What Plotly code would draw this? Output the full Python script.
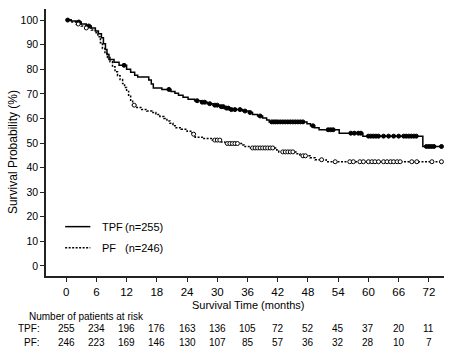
import plotly.graph_objects as go

# ---------------- data ----------------
tpf_times = [0, 1.0, 2.0, 3.0, 4.0, 5.0, 5.8, 6.4, 7.0, 7.4, 7.8, 8.1, 8.5, 9.5, 10.5, 12.0,
             12.8, 13.6, 14.2, 16.4, 16.9, 17.3, 19.0, 20.8, 21.6, 22.3, 23.2, 24.2, 25.5,
             26.8, 28.0, 29.2, 30.5, 31.5, 32.5, 35.0, 36.2, 37.0, 38.0, 39.0, 39.8, 40.3,
             47.8, 48.5, 49.3, 50.2, 54.2, 58.9, 70.8]
tpf_surv = [100, 99.6, 99.2, 98.4, 97.6, 96.8, 95.6, 94.4, 92.8, 90.4, 88.0, 86.0, 84.0, 82.8,
            81.6, 80.0, 78.8, 77.6, 76.8, 75.6, 74.0, 72.4, 71.8, 71.0, 70.2, 69.4, 68.6, 67.8,
            67.2, 66.6, 66.0, 65.4, 64.8, 64.2, 63.6, 63.0, 62.4, 61.6, 61.0, 60.2, 59.4, 58.6,
            57.8, 57.0, 56.2, 55.4, 54.0, 52.8, 48.6]
tpf_censor = [0.3, 2.5, 4.5, 11.5, 20.4, 26.0, 27.0, 27.5, 28.5, 29.5, 30.0, 30.8, 31.2, 31.8,
              32.2, 32.8, 33.5, 34.5, 35.5, 36.5, 38.5, 40.8, 41.2, 41.6, 42.0, 42.5, 43.0,
              43.5, 44.0, 44.5, 45.0, 45.5, 46.0, 46.5, 47.0, 49.0, 52.0, 52.5, 53.0, 56.5,
              57.2, 58.0, 58.5, 60.0, 60.5, 61.0, 61.5, 62.0, 63.0, 64.0, 65.0, 66.0, 67.0,
              67.5, 68.0, 68.5, 69.0, 69.5, 71.5, 72.0, 72.5, 73.0, 74.5]

pf_times = [0, 1.0, 2.0, 3.0, 4.0, 5.0, 5.8, 6.3, 6.8, 7.2, 7.7, 8.2, 8.7, 9.2, 9.7, 10.2,
            10.7, 11.2, 11.6, 12.0, 12.4, 12.8, 13.2, 13.8, 15.0, 16.0, 17.0, 17.8, 18.6,
            19.4, 20.0, 20.6, 21.2, 21.8, 22.8, 24.0, 25.0, 25.6, 27.0, 29.0, 30.8, 31.5,
            34.8, 35.3, 36.6, 41.8, 42.2, 45.6, 46.4, 48.4, 49.4, 51.6]
pf_surv = [100, 99.2, 98.4, 97.6, 96.8, 96.0, 94.8, 93.2, 90.8, 88.4, 86.4, 84.8, 83.0, 81.0,
           79.0, 77.4, 75.8, 74.2, 72.6, 71.0, 69.0, 67.0, 65.4, 64.4, 63.6, 63.0, 62.4, 61.6,
           60.8, 60.0, 59.0, 58.0, 57.0, 56.2, 55.6, 54.8, 53.6, 52.4, 51.8, 51.2, 50.4, 49.8,
           49.2, 48.6, 48.0, 47.2, 46.4, 45.6, 44.8, 44.0, 43.2, 42.4]
pf_censor = [2.4, 4.0, 13.5, 25.3, 29.5, 30.0, 30.5, 32.0, 32.5, 33.0, 33.5, 34.0, 37.0, 37.5,
             38.0, 38.5, 39.0, 39.5, 40.0, 40.5, 41.0, 43.0, 43.5, 44.0, 44.5, 45.0, 47.0,
             47.5, 50.7, 53.4, 56.3, 57.0, 58.3, 59.0, 60.0, 60.7, 61.3, 62.0, 63.0, 63.7,
             64.4, 65.0, 65.7, 66.3, 68.6, 69.6, 72.6, 74.5]

risk_months = [0, 6, 12, 18, 24, 30, 36, 42, 48, 54, 60, 66, 72]
tpf_risk = [255, 234, 196, 176, 163, 136, 105, 72, 52, 45, 37, 20, 11]
pf_risk = [246, 223, 169, 146, 130, 107, 85, 57, 36, 32, 28, 10, 7]

y_ticks = [0, 10, 20, 30, 40, 50, 60, 70, 80, 90, 100]


def surv_at(times, surv, t):
    v = surv[0]
    for ti, si in zip(times, surv):
        if ti <= t:
            v = si
    return v


FONT = "Liberation Sans, Arial, sans-serif"
fig = go.Figure()

for times, surv, cens, dash, filled in [
    (tpf_times, tpf_surv, tpf_censor, "solid", True),
    (pf_times, pf_surv, pf_censor, "2px,1.5px", False),
]:
    end = max(cens)
    fig.add_trace(go.Scatter(
        x=times + [end], y=surv + [surv[-1]], mode="lines", line_shape="hv",
        line=dict(color="black", width=1.5, dash=dash), showlegend=False, hoverinfo="skip"))
    fig.add_trace(go.Scatter(
        x=cens, y=[surv_at(times, surv, t) for t in cens], mode="markers",
        marker=dict(symbol="circle", size=4,
                    color="black" if filled else "white",
                    line=dict(color="black", width=1)),
        showlegend=False, hoverinfo="skip"))

# legend (manual)
fig.add_shape(type="line", xref="x", yref="y", x0=-0.2, x1=4.8, y0=16, y1=16,
              line=dict(color="black", width=1.5))
fig.add_shape(type="line", xref="x", yref="y", x0=-0.2, x1=4.8, y0=7.4, y1=7.4,
              line=dict(color="black", width=1.5, dash="2px,1.5px"))
for lab, n, yv in [("TPF", "(n=255)", 16), ("PF", "(n=246)", 7.4)]:
    fig.add_annotation(x=6.75, y=yv, xref="x", yref="y", text=lab, showarrow=False,
                       xanchor="left", yanchor="middle", font=dict(size=11, color="black", family=FONT))
    fig.add_annotation(x=11.3, y=yv, xref="x", yref="y", text=n, showarrow=False,
                       xanchor="left", yanchor="middle", font=dict(size=11, color="black", family=FONT))

# axis titles
fig.add_annotation(x=(248 - 46) / 398, y=-0.109, xref="paper", yref="paper",
                   text="Survival Time (months)", showarrow=False, xanchor="center", yanchor="middle",
                   font=dict(size=11, color="black", family=FONT))
fig.add_annotation(x=-0.083, y=0.464, xref="paper", yref="paper",
                   text="Survival Probability (%)", showarrow=False, textangle=-90,
                   xanchor="center", yanchor="middle", font=dict(size=12, color="black", family=FONT))

# risk table
fig.add_annotation(x=-0.0485, y=-0.152, xref="paper", yref="paper",
                   text="Number of patients at risk", showarrow=False, xanchor="left", yanchor="middle",
                   font=dict(size=10, color="black", family=FONT))
for lab, vals, yp in [("TPF:", tpf_risk, -0.1985), ("PF:", pf_risk, -0.248)]:
    fig.add_annotation(x=-0.01, y=yp, xref="paper", yref="paper", text=lab, showarrow=False,
                       xanchor="right", yanchor="middle", font=dict(size=10, color="black", family=FONT))
    for m, v in zip(risk_months, vals):
        fig.add_annotation(x=m, y=yp, xref="x", yref="paper", text=str(v), showarrow=False,
                           xanchor="center", yanchor="middle",
                           font=dict(size=10, color="black", family=FONT))

fig.update_layout(
    width=450, height=356,
    margin=dict(l=46, r=6, t=9, b=80),
    paper_bgcolor="white", plot_bgcolor="white",
    font=dict(family=FONT, color="black"),
    xaxis=dict(range=[-4, 75], tickvals=risk_months, ticks="outside", ticklen=4,
               tickwidth=1.2, tickcolor="#222", showline=True, linecolor="#222", linewidth=1.5,
               showgrid=False, zeroline=False, tickfont=dict(size=11.5, color="black")),
    yaxis=dict(range=[-4.07, 104.5], tickvals=y_ticks, ticks="outside", ticklen=4,
               tickwidth=1.2, tickcolor="#222", showline=True, linecolor="#222", linewidth=1.5,
               showgrid=False, zeroline=False, tickfont=dict(size=10.5, color="black")),
)

fig.write_html("out.html", config={"displayModeBar": False},
               post_script="document.body.style.margin='0';")
